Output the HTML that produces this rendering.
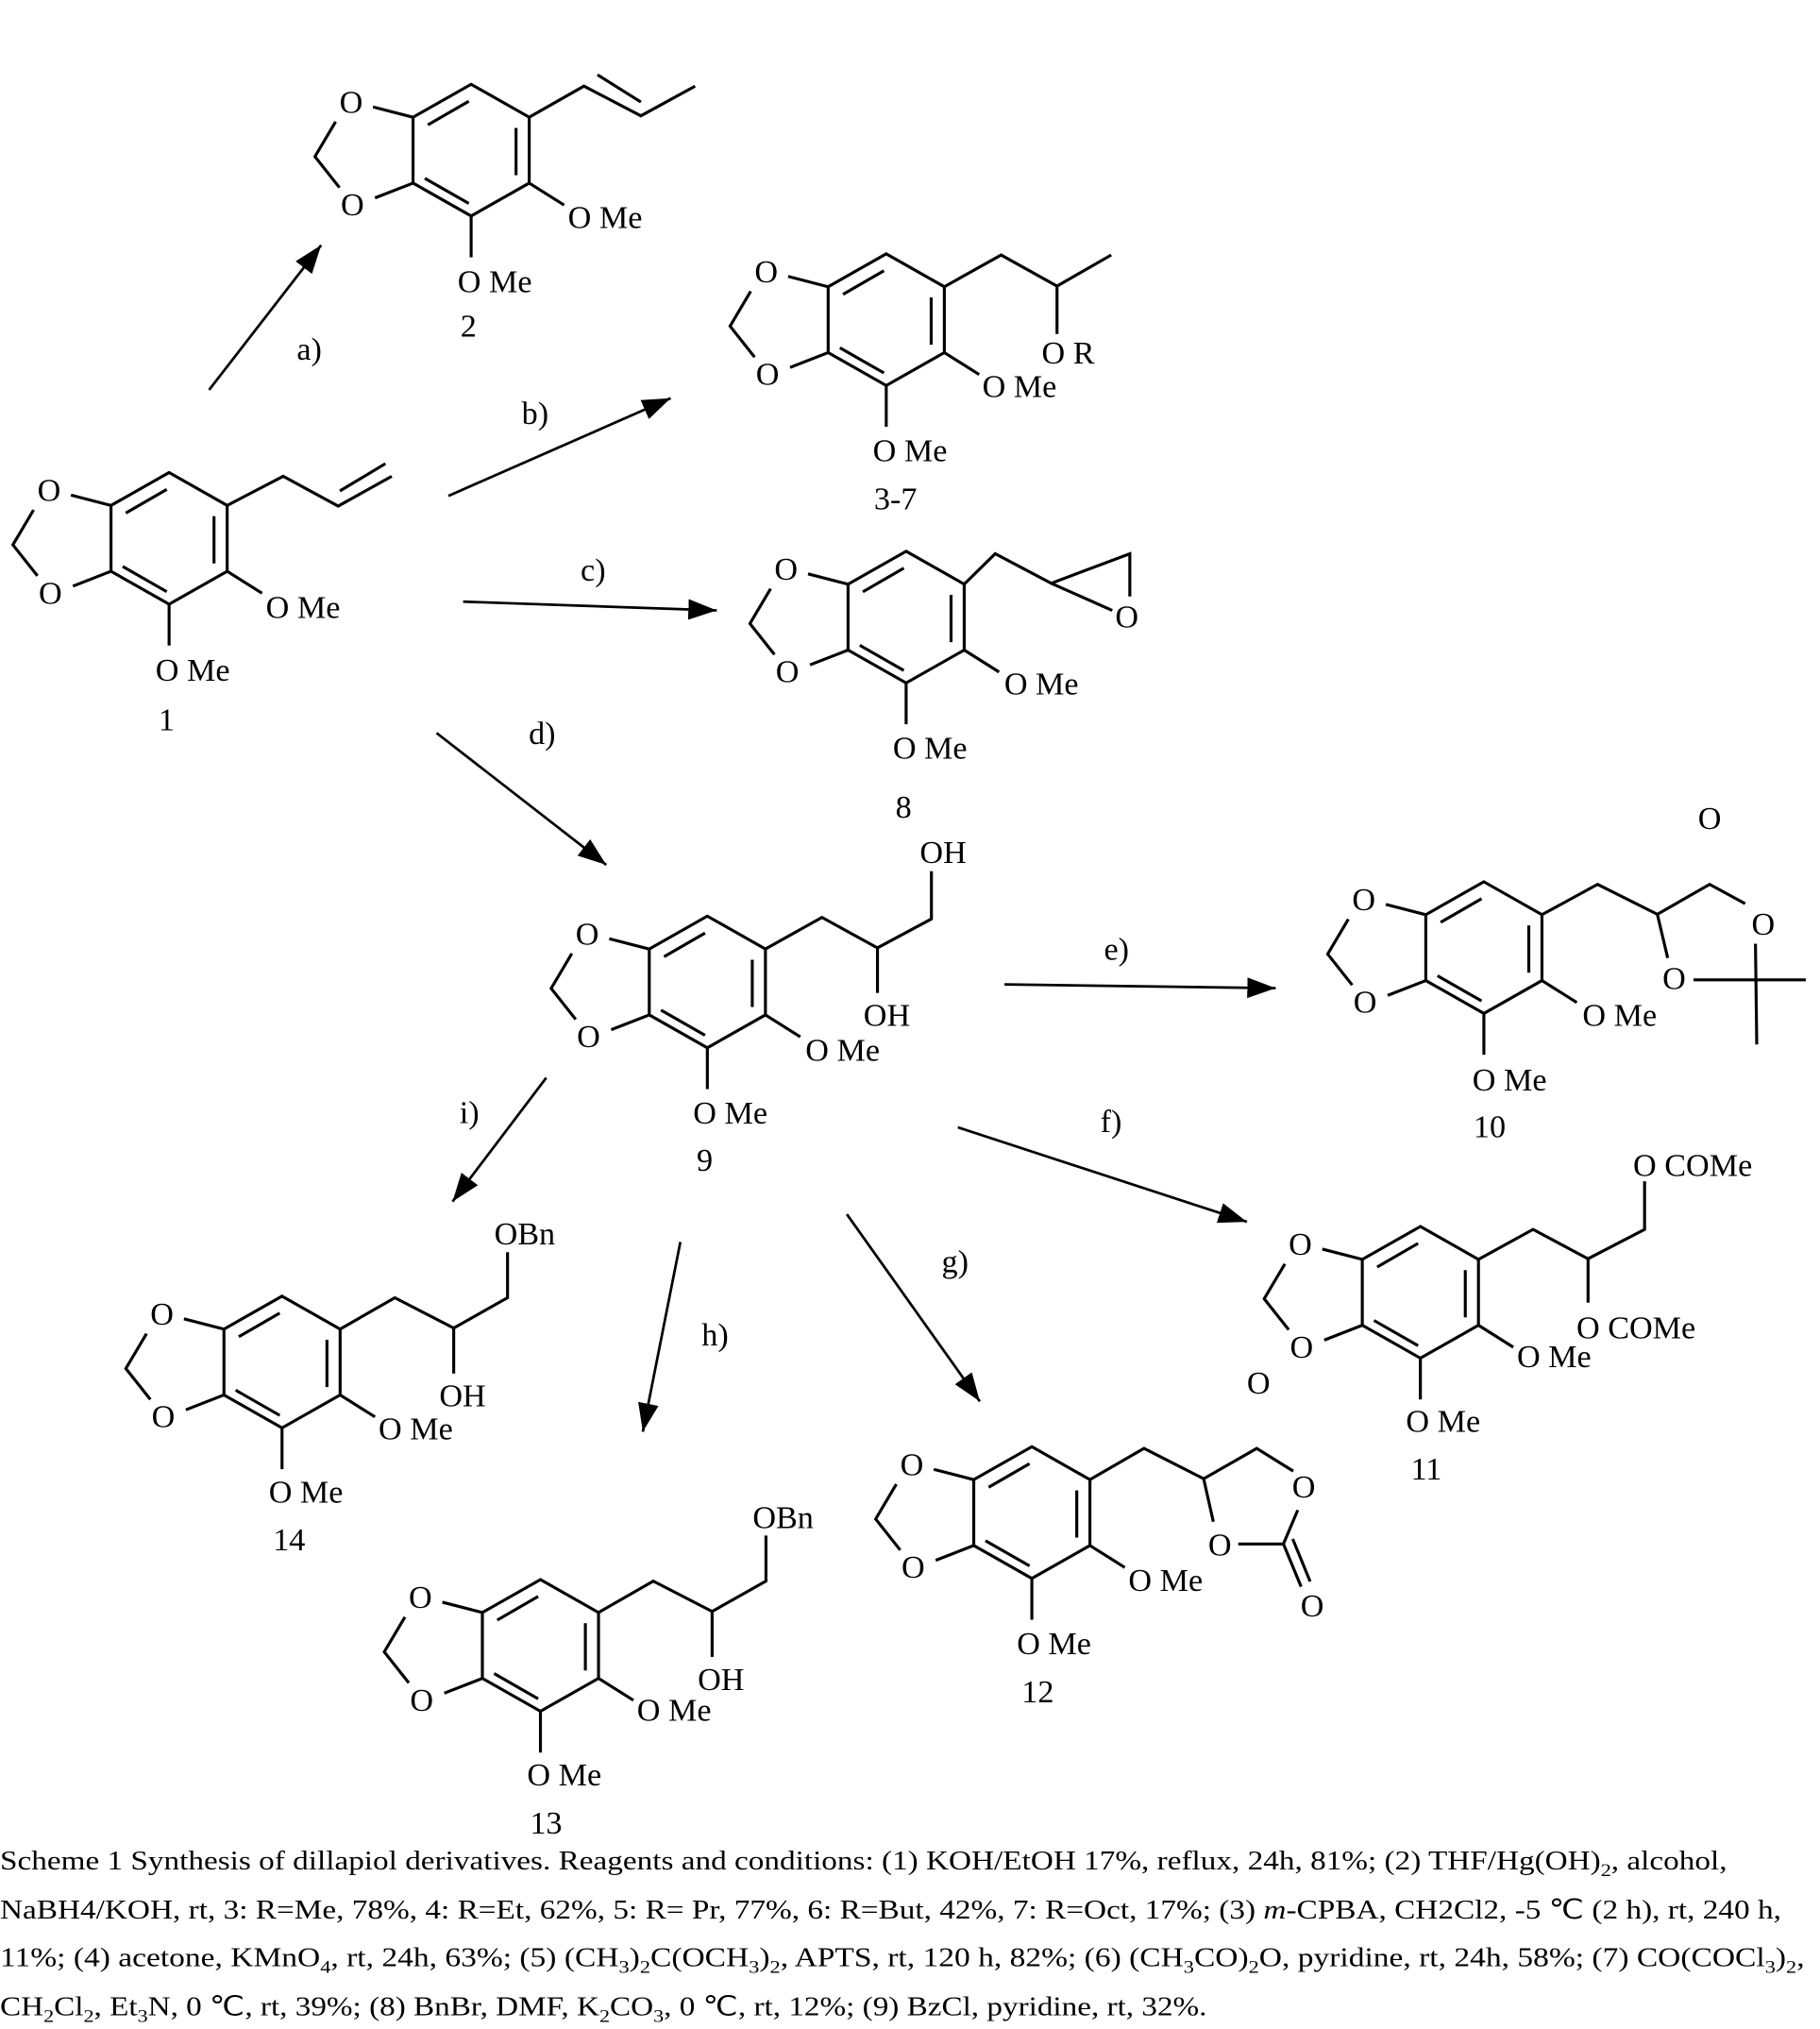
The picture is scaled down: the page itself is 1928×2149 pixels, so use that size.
<!DOCTYPE html>
<html><head><meta charset="utf-8"><style>
html,body{margin:0;padding:0;background:#fff;}
svg{display:block;}
text{font-family:"Liberation Serif",serif;fill:#000;}
</style></head><body>
<svg width="1928" height="2149" viewBox="0 0 1410 1571.6" xmlns="http://www.w3.org/2000/svg">
<defs>
<g id="ring" stroke="#000" stroke-width="2.3" fill="none" stroke-linecap="butt">
<polygon points="0,-51 45,-25.5 45,25.5 0,51 -45,25.5 -45,-25.5" stroke-linejoin="miter"/>
<line x1="-33.5" y1="-19.6" x2="-1.8" y2="-37.9"/>
<line x1="34.8" y1="-17.2" x2="34.8" y2="19.4"/>
<line x1="-35.9" y1="21.8" x2="-1.8" y2="41.3"/>
<line x1="-45" y1="-25.5" x2="-76" y2="-33.5"/>
<line x1="-45" y1="25.5" x2="-74.5" y2="37"/>
<polyline points="-105,-22 -121,5 -102,29"/>
<line x1="45" y1="25.5" x2="72" y2="42.5"/>
<line x1="0" y1="51" x2="0" y2="83"/>
</g>
<marker id="ah" markerUnits="userSpaceOnUse" markerWidth="24" markerHeight="18" refX="22" refY="8" orient="auto">
<path d="M0,0 L22,8 L0,16 z" fill="#000"/>
</marker>
</defs>

<!-- compounds: rings -->
<use href="#ring" x="131" y="417"/>
<use href="#ring" x="365" y="116.3"/>
<use href="#ring" x="686.6" y="247.6"/>
<use href="#ring" x="702" y="478"/>
<use href="#ring" x="548" y="760.6"/>
<use href="#ring" x="1149.6" y="734"/>
<use href="#ring" x="1100.4" y="1001"/>
<use href="#ring" x="799.4" y="1171.6"/>
<use href="#ring" x="418.7" y="1274.5"/>
<use href="#ring" x="218.5" y="1055"/>

<g font-size="25">
<!-- ring texts per compound: O1, O2, right OMe, bottom OMe -->
<g text-anchor="middle">
<text x="38" y="388">O</text><text x="39" y="467.5">O</text>
<text x="272" y="87.3">O</text><text x="273" y="166.8">O</text>
<text x="593.6" y="218.6">O</text><text x="594.6" y="298.1">O</text>
<text x="609" y="449">O</text><text x="610" y="528.5">O</text>
<text x="455" y="731.6">O</text><text x="456" y="811.1">O</text>
<text x="1056.6" y="705">O</text><text x="1057.6" y="784.5">O</text>
<text x="1007.4" y="972">O</text><text x="1008.4" y="1051.5">O</text>
<text x="706.4" y="1142.6">O</text><text x="707.4" y="1222.1">O</text>
<text x="325.7" y="1245.5">O</text><text x="326.7" y="1325">O</text>
<text x="125.5" y="1026">O</text><text x="126.5" y="1105.5">O</text>
</g>
<text x="206" y="478.5">O Me</text><text x="120.5" y="527.3">O Me</text>
<text x="440" y="176.5">O Me</text><text x="354.5" y="226.2">O Me</text>
<text x="761" y="307.6">O Me</text><text x="676.2" y="357.4">O Me</text>
<text x="778" y="537.9">O Me</text><text x="691.7" y="587.6">O Me</text>
<text x="624" y="821.5">O Me</text><text x="537" y="870.3">O Me</text>
<text x="1226" y="794.7">O Me</text><text x="1140.7" y="844.6">O Me</text>
<text x="1175.2" y="1058.8">O Me</text><text x="1089.2" y="1109">O Me</text>
<text x="874.2" y="1232.3">O Me</text><text x="787.8" y="1281.3">O Me</text>
<text x="493.5" y="1333">O Me</text><text x="408.4" y="1383.1">O Me</text>
<text x="293.3" y="1114.8">O Me</text><text x="208.2" y="1163.8">O Me</text>

<!-- labels -->
<g text-anchor="middle">
<text x="129" y="565.6">1</text>
<text x="363" y="260.6">2</text>
<text x="693.8" y="394.4">3-7</text>
<text x="700" y="633.5">8</text>
<text x="546" y="907">9</text>
<text x="1154" y="881">10</text>
<text x="1105" y="1146">11</text>
<text x="804" y="1318.5">12</text>
<text x="423" y="1420.4">13</text>
<text x="224" y="1201">14</text>
<text x="239.6" y="278.6">a)</text>
<text x="414.6" y="328.3">b)</text>
<text x="459.5" y="449.9">c)</text>
<text x="420" y="576.1">d)</text>
<text x="865" y="743.5">e)</text>
<text x="860.8" y="877">f)</text>
<text x="739.9" y="985.6">g)</text>
<text x="554" y="1042.3">h)</text>
<text x="363.6" y="870">i)</text>
<!-- heteroatoms in side chains -->
<text x="873" y="486">O</text>
<text x="1366" y="724">O</text>
<text x="1297" y="766">O</text>
<text x="1324.5" y="642">O</text>
<text x="975" y="1079.6">O</text>
<text x="1010" y="1160">O</text>
<text x="945" y="1205">O</text>
<text x="1016.6" y="1252">O</text>
</g>
<text x="807" y="281.6">O R</text>
<text x="712.6" y="668.4">OH</text>
<text x="669" y="794.7">OH</text>
<text x="1265.2" y="911">O COMe</text>
<text x="1221.3" y="1036.5">O COMe</text>
<text x="382.9" y="964">OBn</text>
<text x="340.3" y="1089.4">OH</text>
<text x="583.1" y="1183.5">OBn</text>
<text x="540.5" y="1308.9">OH</text>
</g>

<!-- side chains -->
<g stroke="#000" stroke-width="2.3" fill="none">
<polyline points="176,391.5 219.4,368.9 262,392 303.5,368.9"/>
<line x1="263.3" y1="380.3" x2="298.6" y2="359.1"/>
<polyline points="410,90.8 452.4,66.7 496.5,89.7 538.5,66.7"/>
<line x1="462.9" y1="57.9" x2="496.5" y2="79"/>
<polyline points="731.6,222.1 775.6,197.5 818.9,221.6 860.9,197.5"/>
<line x1="818.9" y1="221.6" x2="818.9" y2="258.7"/>
<polyline points="747,452.5 771,428.9 814.4,451.8 875.3,428.9 875.3,462"/>
<line x1="814.4" y1="451.8" x2="861.7" y2="472.8"/>
<polyline points="593,735.1 636.8,710.6 679.8,734.2 721.6,711.8 721.6,674.8"/>
<line x1="679.8" y1="734.2" x2="679.8" y2="769.1"/>
<polyline points="1194.6,708.5 1237.7,685 1284,708.2 1324.5,685 1352,700"/>
<line x1="1284" y1="708.2" x2="1292" y2="742"/>
<line x1="1312" y1="759" x2="1399" y2="759"/>
<line x1="1360" y1="731" x2="1361" y2="809"/>
<polyline points="1145.4,975.5 1187.7,952.3 1230.3,975 1274.1,952.3 1274.1,915"/>
<line x1="1230.3" y1="975" x2="1230.3" y2="1009"/>
<polyline points="844.4,1146.1 886.3,1121.9 932.5,1145.4 973.6,1121.9 1001.9,1139.5"/>
<line x1="932.5" y1="1145.4" x2="940" y2="1178.7"/>
<line x1="959.3" y1="1195.9" x2="994.3" y2="1195.9"/>
<line x1="994.3" y1="1195.9" x2="1005.4" y2="1169.7"/>
<line x1="994.3" y1="1195.9" x2="1008" y2="1229"/>
<line x1="1001.5" y1="1192" x2="1015" y2="1225"/>
<polyline points="263.5,1029.5 305.9,1005.2 351.5,1028.7 393.2,1005.2 393.2,969.9"/>
<line x1="351.5" y1="1028.7" x2="351.5" y2="1063.9"/>
<polyline points="463.7,1249 506.1,1224.7 551.7,1248.2 593.4,1224.7 593.4,1189.4"/>
<line x1="551.7" y1="1248.2" x2="551.7" y2="1283.4"/>
</g>

<!-- arrows -->
<g stroke="#000" stroke-width="2" marker-end="url(#ah)">
<line x1="162" y1="302" x2="248.8" y2="189.9"/>
<line x1="347.4" y1="384.1" x2="519.6" y2="308.4"/>
<line x1="358.8" y1="466" x2="555.3" y2="472.8"/>
<line x1="338.2" y1="567.7" x2="469.7" y2="669.9"/>
<line x1="778.2" y1="762.5" x2="988.3" y2="765.4"/>
<line x1="742.1" y1="873.2" x2="966" y2="946.4"/>
<line x1="656.1" y1="940.5" x2="759.1" y2="1085.5"/>
<line x1="527.1" y1="962" x2="498" y2="1109"/>
<line x1="423.2" y1="834.8" x2="350.6" y2="930.7"/>
</g>

<!-- caption -->
<g font-size="21">
<text x="0" y="1448" textLength="1338" lengthAdjust="spacingAndGlyphs">Scheme 1 Synthesis of dillapiol derivatives. Reagents and conditions: (1) KOH/EtOH 17%, reflux, 24h, 81%; (2) THF/Hg(OH)<tspan font-size="14" dy="5">2</tspan><tspan dy="-5">, alcohol,</tspan></text>
<text x="0" y="1486" textLength="1380" lengthAdjust="spacingAndGlyphs">NaBH4/KOH, rt, 3: R=Me, 78%, 4: R=Et, 62%, 5: R= Pr, 77%, 6: R=But, 42%, 7: R=Oct, 17%; (3) <tspan font-style="italic">m</tspan>-CPBA, CH2Cl2, -5 ℃ (2 h), rt, 240 h,</text>
<text x="0" y="1523" textLength="1398" lengthAdjust="spacingAndGlyphs">11%; (4) acetone, KMnO<tspan font-size="14" dy="5">4</tspan><tspan dy="-5">, rt, 24h, 63%; (5) (CH</tspan><tspan font-size="14" dy="5">3</tspan><tspan dy="-5">)</tspan><tspan font-size="14" dy="5">2</tspan><tspan dy="-5">C(OCH</tspan><tspan font-size="14" dy="5">3</tspan><tspan dy="-5">)</tspan><tspan font-size="14" dy="5">2</tspan><tspan dy="-5">, APTS, rt, 120 h, 82%; (6) (CH</tspan><tspan font-size="14" dy="5">3</tspan><tspan dy="-5">CO)</tspan><tspan font-size="14" dy="5">2</tspan><tspan dy="-5">O, pyridine, rt, 24h, 58%; (7) CO(COCl</tspan><tspan font-size="14" dy="5">3</tspan><tspan dy="-5">)</tspan><tspan font-size="14" dy="5">2</tspan><tspan dy="-5">,</tspan></text>
<text x="0" y="1561" textLength="935" lengthAdjust="spacingAndGlyphs">CH<tspan font-size="14" dy="5">2</tspan><tspan dy="-5">Cl</tspan><tspan font-size="14" dy="5">2</tspan><tspan dy="-5">, Et</tspan><tspan font-size="14" dy="5">3</tspan><tspan dy="-5">N, 0 ℃, rt, 39%; (8) BnBr, DMF, K</tspan><tspan font-size="14" dy="5">2</tspan><tspan dy="-5">CO</tspan><tspan font-size="14" dy="5">3</tspan><tspan dy="-5">, 0 ℃, rt, 12%; (9) BzCl, pyridine, rt, 32%.</tspan></text>
</g>
</svg>
</body></html>
